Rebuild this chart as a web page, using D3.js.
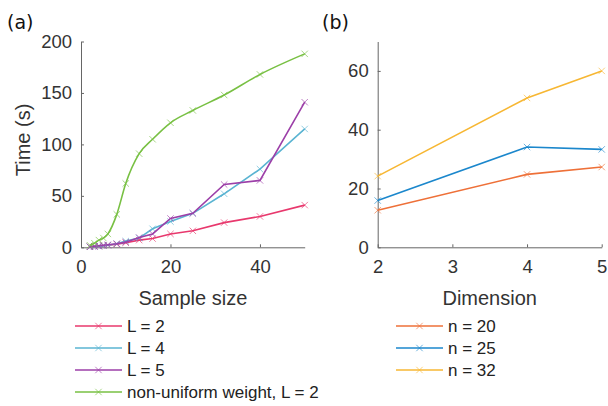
<!DOCTYPE html>
<html>
<head>
<meta charset="utf-8">
<script src="https://cdn.jsdelivr.net/npm/d3@7"></script>
<style>
body { margin: 0; background: white; }
text { font-family: "Liberation Sans", Arial, sans-serif; }
</style>
</head>
<body>
<svg width="608" height="406"></svg>
<script>
// panel (a) data
var sampleSize = [2, 3, 4, 5, 6, 8, 10, 13, 16, 20, 25, 32, 40, 50];
var timeL2  = [0.5, 0.8, 1, 1.5, 2, 3, 4.5, 7, 8.5, 13, 16, 24, 30, 41];
var timeL4  = [0.5, 0.8, 1, 1.5, 2, 3.5, 6, 9, 18, 25, 33, 52, 76, 115];
var timeL5  = [0.5, 1, 1.5, 2, 2.5, 3.5, 5, 9.5, 13, 28, 33, 61, 65, 141];
var timeNonUniform = [2, 4, 7, 9, 13, 32, 62, 91, 105, 121, 133, 148, 168, 188];
var seriesA = ["L = 2", "L = 4", "L = 5", "non-uniform weight, L = 2"];
var colorsA = ["#e8386d", "#5ab4d2", "#9c3fa8", "#78c043"];

// panel (b) data
var dimension = [2, 4, 5];
var timeN20 = [12.6, 24.8, 27.3];
var timeN25 = [15.9, 34.1, 33.3];
var timeN32 = [24.2, 50.8, 60];
var seriesB = ["n = 20", "n = 25", "n = 32"];
var colorsB = ["#ee7038", "#1b87cc", "#f7b733"];

var xTicksA = [0, 20, 40];
var yTicksA = [0, 50, 100, 150, 200];
var xTicksB = [2, 3, 4, 5];
var yTicksB = [0, 20, 40, 60];

var svg = d3.select('svg');
var axisColor = '#666';

function cross(g, x, y, color) {
    var s = 3.2;
    g.append('path')
        .attr('d', 'M' + (x - s) + ',' + (y - s) + 'L' + (x + s) + ',' + (y + s) +
                   'M' + (x - s) + ',' + (y + s) + 'L' + (x + s) + ',' + (y - s))
        .attr('stroke', color).attr('stroke-width', 1).attr('opacity', 0.65)
        .attr('fill', 'none');
}

function drawPanel(opts) {
    var g = svg.append('g');
    var x = d3.scaleLinear().domain(opts.xDomain).range(opts.xRange);
    var y = d3.scaleLinear().domain(opts.yDomain).range([247.3, 41.5]);
    var fmt = d3.format('d');

    // axes (box off, ticks inward)
    var xAxis = g.append('g').attr('transform', 'translate(0,247.3)')
        .call(d3.axisBottom(x).tickValues(opts.xTicks).tickFormat(fmt)
            .tickSize(-3).tickPadding(8).tickSizeOuter(0));
    var yAxis = g.append('g').attr('transform', 'translate(' + opts.xRange[0] + ',0)')
        .call(d3.axisLeft(y).tickValues(opts.yTicks).tickFormat(fmt)
            .tickSize(-3).tickPadding(9).tickSizeOuter(0));
    [xAxis, yAxis].forEach(function (a) {
        a.select('.domain').attr('stroke', axisColor);
        a.selectAll('.tick line').attr('stroke', axisColor);
        a.selectAll('.tick text').attr('fill', '#333').style('font-size', '18.5px')
            .style('font-family', '"Liberation Sans", Arial, sans-serif');
    });
    xAxis.selectAll('.tick text').attr('dy', '0.95em');

    opts.series.forEach(function (vals, i) {
        var pts = opts.xs.map(function (d, j) { return [x(d), y(vals[j])]; });
        var line = d3.line().curve(opts.curves && opts.curves[i] ? opts.curves[i] : d3.curveLinear);
        g.append('path').attr('d', line(pts)).attr('fill', 'none')
            .attr('stroke', opts.colors[i]).attr('stroke-width', 1.6);
        pts.forEach(function (p) { cross(g, p[0], p[1], opts.colors[i]); });
    });

    g.append('text').attr('x', (opts.xRange[0] + opts.xRange[1]) / 2).attr('y', 305)
        .attr('text-anchor', 'middle').style('font-size', '20px').attr('fill', '#333')
        .text(opts.xLabel);
    if (opts.yLabel) {
        g.append('text').attr('transform', 'translate(30,140) rotate(-90)')
            .attr('text-anchor', 'middle').style('font-size', '20px').attr('fill', '#333')
            .text(opts.yLabel);
    }
    g.append('text').attr('x', opts.tagX).attr('y', 29)
        .style('font-family', '"DejaVu Sans", Verdana, sans-serif').style('font-size', '19px')
        .attr('fill', '#111').text(opts.tag);

    // legend
    var leg = g.append('g');
    opts.names.forEach(function (name, i) {
        var yy = 326 + i * 22;
        leg.append('line').attr('x1', opts.legX).attr('x2', opts.legX + 47)
            .attr('y1', yy).attr('y2', yy).attr('stroke', opts.colors[i]).attr('stroke-width', 1.6);
        cross(leg, opts.legX + 23.5, yy, opts.colors[i]);
        leg.append('text').attr('x', opts.legX + 52).attr('y', yy + 6)
            .style('font-size', '17px').attr('fill', '#222').text(name);
    });
}

drawPanel({
    xDomain: [0, 50], xRange: [81, 304.7], yDomain: [0, 200],
    xTicks: xTicksA, yTicks: yTicksA, xs: sampleSize,
    series: [timeL2, timeL4, timeL5, timeNonUniform],
    curves: [null, null, null, d3.curveMonotoneX],
    colors: colorsA, names: seriesA,
    xLabel: 'Sample size', yLabel: 'Time (s)', tag: '(a)', tagX: 7, legX: 75
});

drawPanel({
    xDomain: [2, 5], xRange: [377.7, 601.7], yDomain: [0, 70],
    xTicks: xTicksB, yTicks: yTicksB, xs: dimension,
    series: [timeN20, timeN25, timeN32],
    colors: colorsB, names: seriesB,
    xLabel: 'Dimension', yLabel: null, tag: '(b)', tagX: 322, legX: 396
});
</script>
</body>
</html>
